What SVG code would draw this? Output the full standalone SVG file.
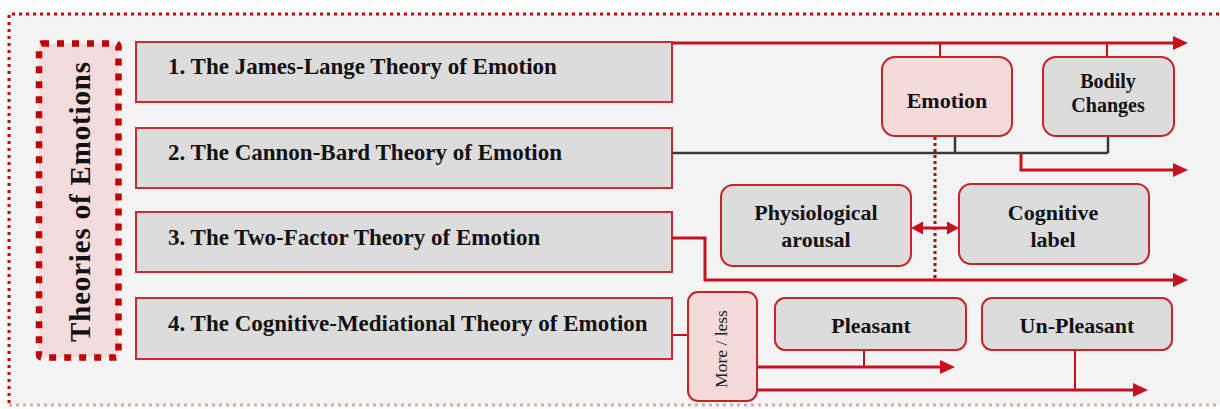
<svg xmlns="http://www.w3.org/2000/svg" width="1220" height="409" viewBox="0 0 1220 409">
<defs>
<style>
.bg{fill:#f4f4f4}
.outer{fill:none;stroke:#c00000;stroke-width:3;stroke-dasharray:3 4}
.theory rect{fill:#dcdcdc;stroke:#cc2a2f;stroke-width:2}
.rnode{fill:#dcdcdc;stroke:#c8232b;stroke-width:2}
.pnode{fill:#f5dada;stroke:#c8232b;stroke-width:2}
.lbl{font-family:"Liberation Serif","Times New Roman",serif;font-weight:bold;fill:#111}
.t23{font-size:23px}
.t22{font-size:22px;text-anchor:middle}
.t20{font-size:20px;text-anchor:middle}
.main{fill:none;stroke:#c8101e;stroke-width:3}
.thin{fill:none;stroke:#c8101e;stroke-width:2}
.dark{fill:none;stroke:#3a3a3a;stroke-width:2.5}
.dots{fill:none;stroke:#c00000;stroke-width:3;stroke-dasharray:3 3}
</style>
<marker id="ah" markerUnits="userSpaceOnUse" markerWidth="15" markerHeight="14" refX="0" refY="7" orient="auto" viewBox="0 0 15 14">
<path d="M0,0 L15,7 L0,14 z" fill="#c8101e"/>
</marker>
<marker id="ah2" markerUnits="userSpaceOnUse" markerWidth="12" markerHeight="13" refX="0" refY="6.5" orient="auto-start-reverse" viewBox="0 0 12 13">
<path d="M0,0 L12,6.5 L0,13 z" fill="#c8101e"/>
</marker>
</defs>
<rect x="0" y="0" width="1220" height="409" fill="#ffffff"/>
<rect class="bg" x="9" y="14" width="1211" height="391"/>
<path class="outer" d="M1219,14 H9 V405"/>
<path class="outer" d="M9,405 H1219" style="stroke:#e3a6a6"/>

<g id="title">
<rect x="39" y="43.5" width="79.5" height="314" rx="3" fill="#f4dcdc" stroke="#c00000" stroke-width="6.5" stroke-dasharray="7 8"/>
<text class="lbl" transform="translate(90,202) rotate(-90)" text-anchor="middle" font-size="29" textLength="280">Theories of Emotions</text>
</g>

<g id="theory1" class="theory"><rect x="136" y="42" width="536" height="60"/><text class="lbl t23" x="168" y="74">1. The James-Lange Theory of Emotion</text></g>
<g id="theory2" class="theory"><rect x="136" y="128" width="536" height="60"/><text class="lbl t23" x="168" y="160">2. The Cannon-Bard Theory of Emotion</text></g>
<g id="theory3" class="theory"><rect x="136" y="212" width="536" height="60"/><text class="lbl t23" x="168" y="245">3. The Two-Factor Theory of Emotion</text></g>
<g id="theory4" class="theory"><rect x="136" y="298" width="536" height="61"/><text class="lbl t23" x="168" y="331">4. The Cognitive-Mediational Theory of Emotion</text></g>

<g id="connectors">
<path class="main" d="M671,43 H1173" marker-end="url(#ah)"/>
<path class="thin" d="M940,43 V58"/>
<path class="thin" d="M1107,43 V57"/>
<path class="dark" d="M672,153 H1108 M955,136 V153 M1108,136 V153"/>
<path class="main" d="M1021,153 V170 H1173" marker-end="url(#ah)"/>
<path class="main" d="M672,238 H705 V280 H1173" marker-end="url(#ah)"/>
<path class="dots" d="M935,137 V279"/>
<path class="main" d="M923,228 H947" marker-start="url(#ah2)" marker-end="url(#ah2)"/>
<path class="thin" d="M672,335 H688"/>
<path class="main" d="M757,367 H940" marker-end="url(#ah)"/>
<path class="thin" d="M864,351 V367"/>
<path class="main" d="M757,390 H1133" marker-end="url(#ah)"/>
<path class="thin" d="M1075,350 V390"/>
</g>

<g id="emotion"><rect class="pnode" x="882" y="57" width="130" height="79" rx="13"/><text class="lbl t22" x="947" y="108">Emotion</text></g>
<g id="bodily"><rect class="rnode" x="1043" y="57" width="131" height="79" rx="13"/><text class="lbl t20" x="1108" y="88">Bodily</text><text class="lbl t20" x="1108" y="112">Changes</text></g>
<g id="physio"><rect class="rnode" x="721" y="185" width="190" height="81" rx="12"/><text class="lbl t22" x="816" y="220">Physiological</text><text class="lbl t22" x="816" y="247">arousal</text></g>
<g id="cognitive"><rect class="rnode" x="959" y="184" width="190" height="80" rx="12"/><text class="lbl t22" x="1053" y="220">Cognitive</text><text class="lbl t22" x="1053" y="247">label</text></g>
<g id="moreless"><rect class="pnode" x="688" y="292" width="69" height="109" rx="10"/><text transform="translate(727,349) rotate(-90)" text-anchor="middle" font-family="Liberation Serif, Times New Roman, serif" font-size="17.5" fill="#222">More / less</text></g>
<g id="pleasant"><rect class="rnode" x="775" y="298" width="191" height="52" rx="10"/><text class="lbl t22" x="871" y="333">Pleasant</text></g>
<g id="unpleasant"><rect class="rnode" x="982" y="298" width="190" height="52" rx="10"/><text class="lbl t22" x="1077" y="333">Un-Pleasant</text></g>
</svg>
